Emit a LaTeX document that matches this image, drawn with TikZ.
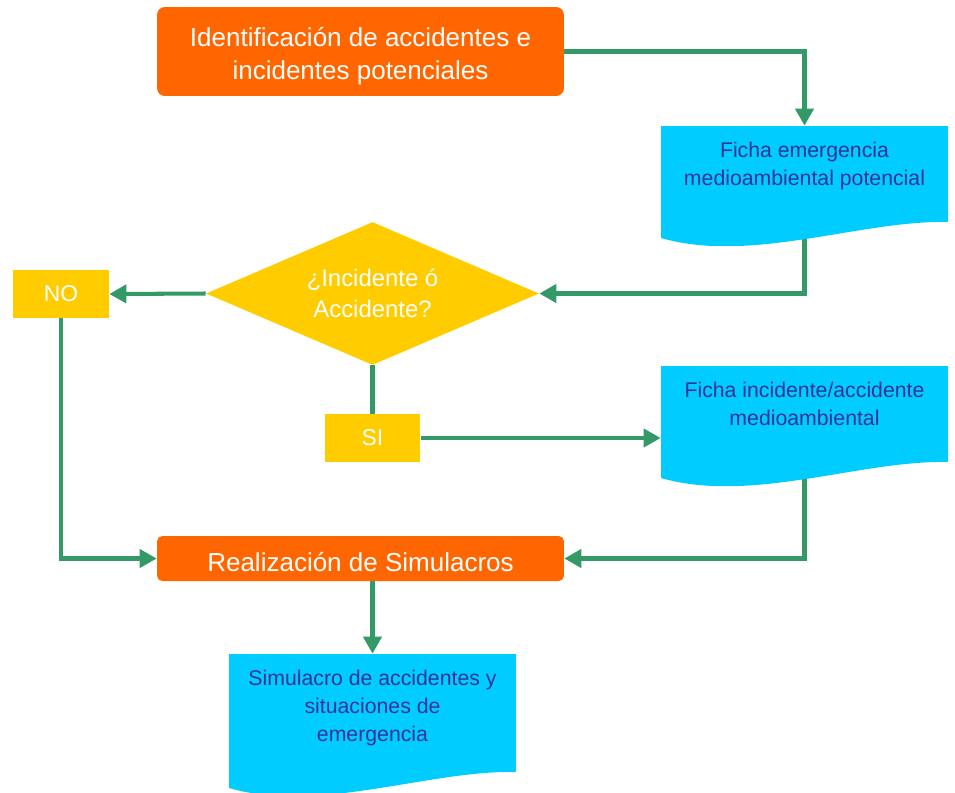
\documentclass[tikz,border=0pt]{standalone}
\usepackage{fontspec}
\setmainfont{Liberation Sans}
\usetikzlibrary{arrows.meta, shapes.geometric, backgrounds}
\definecolor{emorange}{HTML}{FF6600}
\definecolor{emyellow}{HTML}{FFCC00}
\definecolor{emcyan}{HTML}{00CCFF}
\definecolor{emtext}{HTML}{333399}
\definecolor{emgreen}{HTML}{339966}

\begin{document}
\begin{tikzpicture}[x=0.02cm, y=-0.02cm,
    proc/.style={fill=emorange, text=white, align=center, inner sep=0pt,
                 minimum width=8.14cm, font=\fontsize{14.8}{18.7}\selectfont},
    answer/.style={fill=emyellow, text=white, inner sep=0pt,
                   minimum width=1.92cm, minimum height=0.96cm,
                   font=\fontsize{13}{15}\selectfont},
    decision/.style={diamond, fill=emyellow, text=white, align=center,
                     inner sep=0pt, shape aspect=2.3, minimum width=6.66cm,
                     minimum height=2.86cm, font=\fontsize{13.6}{17.6}\selectfont},
    doc/.style={inner sep=0pt, minimum width=5.74cm, align=center,
                text=emtext, font=\fontsize{12.1}{15.9}\selectfont,
                path picture={
                  \fill[emcyan] (path picture bounding box.north west)
                    -- (path picture bounding box.north east)
                    -- ([shift={(0,-24)}]path picture bounding box.south east)
                    .. controls ([shift={(-87,-26)}]path picture bounding box.south east)
                    and ([shift={(90,18)}]path picture bounding box.south west)
                    .. ([shift={(0,-8)}]path picture bounding box.south west)
                    -- cycle;}},
    link/.style={emgreen, line width=2.3pt},
    arr/.style={link, -{Triangle[length=0.34cm, width=0.36cm]}},
]
\useasboundingbox (0,0) rectangle (955,792);

% boxes
\node[proc, rounded corners=4.5pt, minimum height=1.78cm, text height=1.22cm] (ident) at (360.5,51.5)
   {Identificación de accidentes e\\incidentes potenciales};
\node[doc, minimum height=2.4cm, text depth=0.88cm] (fema) at (804.5,186)
   {Ficha emergencia\\medioambiental potencial};
\node[decision] (tipo) at (372.5,293.5) {¿Incidente ó\\Accidente?};
\node[answer] (no) at (61,294) {NO};
\node[answer] (si) at (372.5,438) {SI};
\node[doc, minimum height=2.4cm, text depth=0.88cm] (finc) at (804.5,426)
   {Ficha incidente/accidente\\medioambiental};
\node[proc, rounded corners=3pt, minimum height=0.9cm, text height=0.52cm] (simul) at (360.5,558.5)
   {Realización de Simulacros};
\node[doc, minimum height=2.84cm, text depth=0.76cm] (sdoc) at (372.5,725)
   {Simulacro de accidentes y\\situaciones de\\emergencia};

% connectors, kept behind the boxes
\begin{scope}[on background layer]
\draw[arr] (ident.east) -| (fema.north);
\draw[arr] (fema.center) |- (tipo.east);
\draw[arr] (tipo.west) -- (no.east);
\draw[link] (tipo.south) -- (si.north);
\draw[arr] (si.east) -- (si.east -| finc.west);
\draw[arr] (no.south) |- (simul.west);
\draw[arr] (finc.center) |- (simul.east);
\draw[arr] (sdoc.north |- simul.south) -- (sdoc.north);
\end{scope}
\end{tikzpicture}
\end{document}
